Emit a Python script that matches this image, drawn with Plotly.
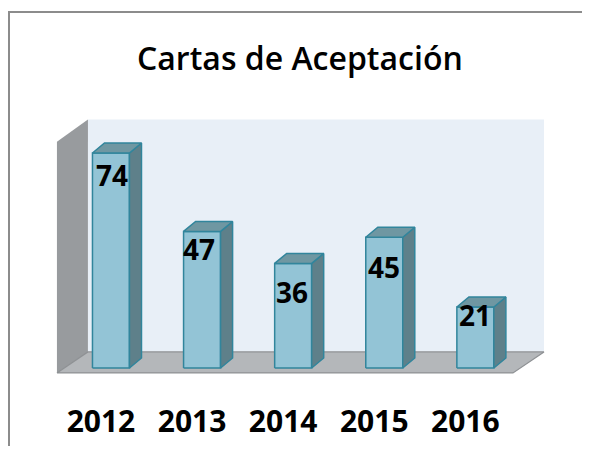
import plotly.graph_objects as go

# ---- data ----
years = ["2012", "2013", "2014", "2015", "2016"]
cartas = [74, 47, 36, 45, 21]
title_text = "Cartas de Aceptación"

# ---- style / geometry constants (data units) ----
AXIS_MAX = 80
BAR_HALF = 0.203          # half width of bar front face (category units)
BAR_DX, BAR_DY = 0.132, 3.44   # bar depth offset
FLOOR_FRONT_Y = -1.7
DEPTH_DX, DEPTH_DY = 0.34, 7.23  # full floor depth offset
FLOOR_X0, FLOOR_X1 = -0.593, 4.413
LABEL_DROP = [7.6, 6.2, 10.0, 10.3, 2.8]   # label centre below bar top (value units)
LABEL_XSHIFT = [1, -3, -1, 0, 0]

C_WALL = "#E8EFF7"
C_SIDEWALL = "#989B9E"
C_FLOOR = "#B4B7BA"
C_FRONT = "#93C4D6"
C_SIDE = "#5E808A"
C_TOP = "#6F97A2"
C_EDGE = "#31859C"

fig = go.Figure()

def poly(xs, ys, fill, line_color=None, lw=0):
    fig.add_trace(go.Scatter(
        x=xs + [xs[0]], y=ys + [ys[0]], mode="lines", fill="toself",
        fillcolor=fill, line=dict(color=line_color or fill, width=lw),
        hoverinfo="skip", showlegend=False))

# back wall
bx0, bx1 = FLOOR_X0 + DEPTH_DX, FLOOR_X1 + DEPTH_DX
by0 = FLOOR_FRONT_Y + DEPTH_DY
by1 = by0 + AXIS_MAX
poly([bx0, bx1, bx1, bx0], [by0, by0, by1, by1], C_WALL)
# left side wall
poly([FLOOR_X0, bx0, bx0, FLOOR_X0],
     [FLOOR_FRONT_Y, by0, by1, FLOOR_FRONT_Y + AXIS_MAX - 0.4], C_SIDEWALL)
# floor
poly([FLOOR_X0, FLOOR_X1, bx1, bx0],
     [FLOOR_FRONT_Y, FLOOR_FRONT_Y, by0, by0], C_FLOOR, "#8E9194", 1.2)

# bars
for i, v in enumerate(cartas):
    xl, xr = i - BAR_HALF, i + BAR_HALF
    poly([xl, xr, xr, xl], [0, 0, v, v], C_FRONT, C_EDGE, 1.5)
    poly([xr, xr + BAR_DX, xr + BAR_DX, xr],
         [0, BAR_DY, v + BAR_DY, v], C_SIDE, C_EDGE, 1.5)
    poly([xl, xr, xr + BAR_DX, xl + BAR_DX],
         [v, v, v + BAR_DY, v + BAR_DY], C_TOP, C_EDGE, 1.5)

annotations = []
for i, v in enumerate(cartas):
    annotations.append(dict(
        x=i, y=v - LABEL_DROP[i], xref="x", yref="y", text=str(v),
        showarrow=False, xshift=LABEL_XSHIFT[i],
        font=dict(family="Open Sans", size=28, color="#000000", weight="bold"),
        xanchor="center", yanchor="middle"))

annotations.append(dict(
    x=0.5, y=(400 - 57) / 300, xref="paper", yref="paper", text=title_text,
    showarrow=False, xanchor="center", yanchor="middle",
    font=dict(family="Open Sans", size=32, color="#000000", weight=600)))

fig.update_layout(
    width=574, height=438,
    margin=dict(l=32, r=22, t=92, b=46, autoexpand=False),
    paper_bgcolor="white", plot_bgcolor="white",
    showlegend=False,
    annotations=annotations,
    xaxis=dict(range=[-0.779, 4.929], tickmode="array",
               tickvals=list(range(len(years))), ticktext=years,
               showgrid=False, zeroline=False, showline=False, ticks="",
               automargin=False,
               ticklabelshift=-10, ticklabelstandoff=1,
               tickfont=dict(family="Open Sans", size=30, color="#000000", weight="bold"),
               fixedrange=True),
    yaxis=dict(range=[-11.02, 92.25], showgrid=False, zeroline=False,
               automargin=False,
               showline=False, showticklabels=False, ticks="", fixedrange=True),
    shapes=[dict(type="rect", xref="paper", yref="paper",
                 x0=(9 - 40) / 520, x1=1.3, y0=-0.5, y1=(400 - 12) / 300,
                 line=dict(color="#8C8C8C", width=2), fillcolor="rgba(0,0,0,0)",
                 layer="above")],
)

fig.write_html("out.html")
